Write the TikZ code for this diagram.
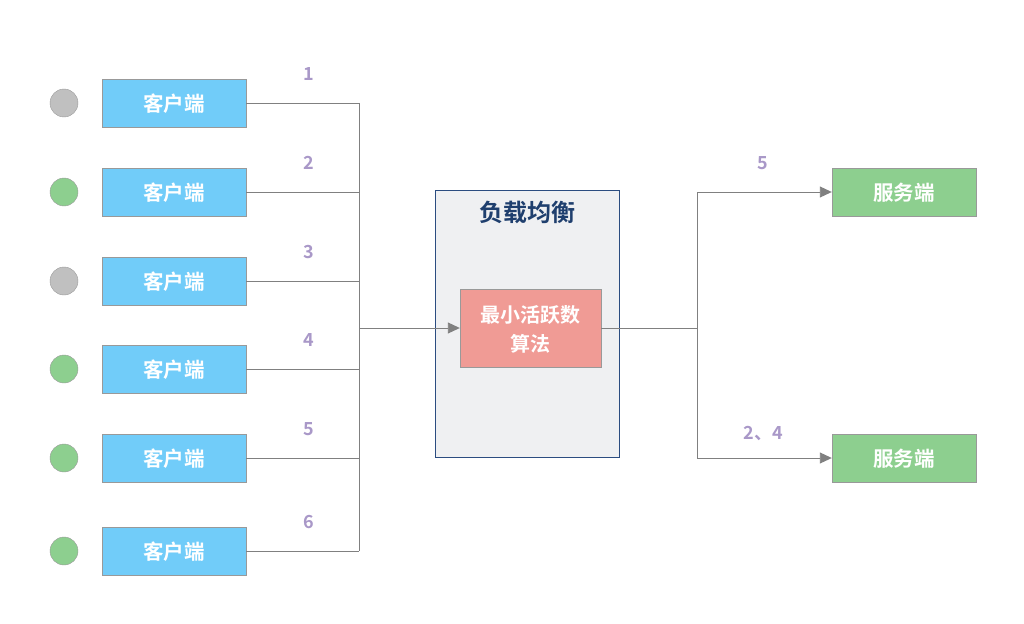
\documentclass[tikz,border=0pt]{standalone}
\usepackage{fontspec}
\newfontfamily\cjk{Noto Sans CJK SC Bold}
\usetikzlibrary{arrows.meta}
\definecolor{cblue}{HTML}{71CCF9}
\definecolor{cgreen}{HTML}{8DCF8F}
\definecolor{cgray}{HTML}{C0C0C0}
\definecolor{cline}{HTML}{808080}
\definecolor{cbord}{HTML}{999999}
\definecolor{clbfill}{HTML}{EFF0F2}
\definecolor{clbbord}{HTML}{2B4C80}
\definecolor{ctitle}{HTML}{1F3F6E}
\definecolor{calgo}{HTML}{F09B95}
\definecolor{cnum}{HTML}{A998C8}
\begin{document}
\begin{tikzpicture}[x=1pt,y=-1pt,
  boxtext/.style={text=white,font=\cjk\fontsize{20.5}{22}\selectfont},
  client/.style={draw=cbord,fill=cblue,minimum width=144pt,minimum height=48pt,inner sep=0pt},
  server/.style={draw=cbord,fill=cgreen,minimum width=144pt,minimum height=48pt,inner sep=0pt},
  lbl/.style={boxtext,inner sep=0pt},
  dot/.style={circle,draw=cbord,minimum size=28pt,inner sep=0pt},
  num/.style={text=cnum,font=\cjk\fontsize{18}{20}\selectfont,inner sep=0pt},
  conn/.style={draw=cline,line width=0.9pt},
  arr/.style={conn,-{Triangle[length=12pt,width=11pt]}}]
\useasboundingbox (0,0) rectangle (1024,623);
% load balancer
\node[draw=clbbord,fill=clbfill,line width=1pt,minimum width=184pt,minimum height=267pt,inner sep=0pt] (lb) at (527,323.5) {};
\node[text=ctitle,font=\cjk\fontsize{24}{26}\selectfont,inner sep=0pt] (lbt) at (527,212) {负载均衡};
\node[draw=cbord,fill=calgo,minimum width=141pt,minimum height=78pt,inner sep=0pt] (algo) at (530.5,328) {};
\node[text=white,align=center,font=\cjk\fontsize{20}{29}\selectfont,inner sep=0pt] (algot) at (530.5,329) {最小活跃数\\算法};
% clients
\foreach \i/\y/\c in {1/103/cgray,2/192/cgreen,3/281/cgray,4/369/cgreen,5/458/cgreen,6/551/cgreen}{
  \node[client] (c\i) at (174,\y) {};
  \node[lbl] (t\i) at (174,\y+1) {客户端};
  \node[dot,fill=\c] (d\i) at (64,\y) {};
  \node[num] (n\i) at (309,\y-29) {\i};
}
\coordinate (jt) at (359,103);
\coordinate (jb) at (359,551);
\coordinate (jm) at (359,328);
\foreach \i in {1,...,6}{ \draw[conn] (c\i.east) -- (c\i.east -| jm); }
\draw[conn] (jt) -- (jb);
\draw[arr] (jm) -- (algo.west);
% servers
\node[server] (s1) at (904,192) {};
\node[lbl] (st1) at (904,193) {服务端};
\node[server] (s2) at (904,458) {};
\node[lbl] (st2) at (904,459) {服务端};
\coordinate (ko) at (697,328);
\draw[conn] (algo.east) -- (ko);
\draw[arr] (ko) |- (s1.west);
\draw[arr] (ko) |- (s2.west);
\node[num] (m1) at (763,163) {5};
\node[num] (m2) at (763,434) {2、4};
\end{tikzpicture}
\end{document}
